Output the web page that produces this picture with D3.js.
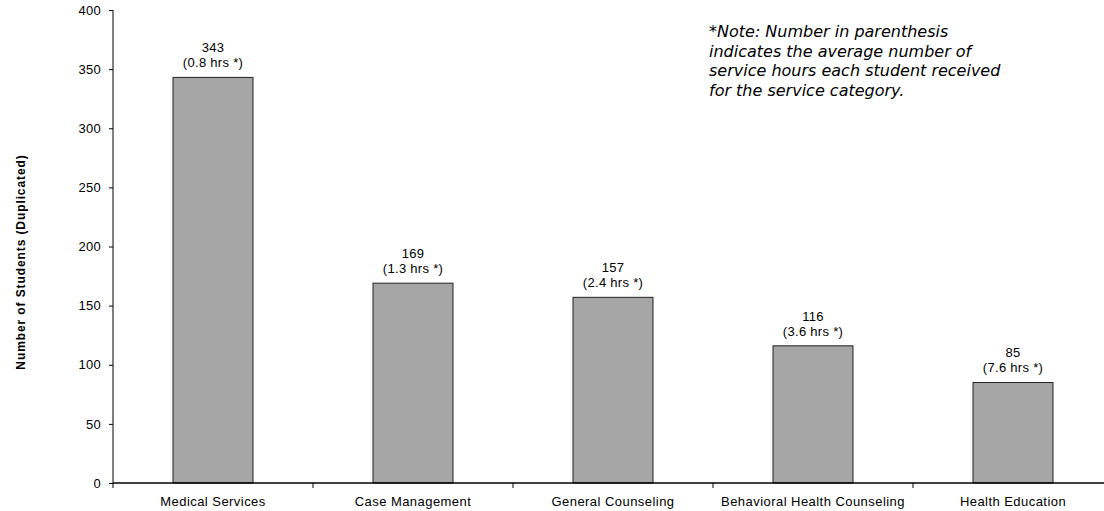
<!DOCTYPE html>
<html>
<head>
<meta charset="utf-8">
<script src="https://cdn.jsdelivr.net/npm/d3@7"></script>
<style>
  html, body { margin: 0; padding: 0; background: #fff; }
  svg { display: block; }
</style>
</head>
<body>
<svg id="chart" width="1104" height="511"></svg>
<script>
// Service categories and number of students served (duplicated count)
const categories = ["Medical Services", "Case Management", "General Counseling", "Behavioral Health Counseling", "Health Education"];
const students = [343, 169, 157, 116, 85];
const avgHours = [0.8, 1.3, 2.4, 3.6, 7.6];
const yTicks = [0, 50, 100, 150, 200, 250, 300, 350, 400];
const noteLines = [
  "*Note: Number in parenthesis",
  "indicates the average number of",
  "service hours each student received",
  "for the service category."
];

const SANS = "'Liberation Sans', Arial, sans-serif";
const svg = d3.select("#chart");
const plot = { left: 113, right: 1113, top: 10, bottom: 483 };

const x = d3.scaleBand().domain(categories).range([plot.left, plot.right]).paddingInner(0.6).paddingOuter(0.3);
const y = d3.scaleLinear().domain([0, 400]).range([plot.bottom, plot.top]);

// Bars
svg.append("g").selectAll("rect")
  .data(categories)
  .join("rect")
  .attr("x", d => x(d))
  .attr("y", (d, i) => y(students[i]))
  .attr("width", x.bandwidth())
  .attr("height", (d, i) => y(0) - y(students[i]))
  .attr("fill", "#a6a6a6")
  .attr("stroke", "#222")
  .attr("stroke-width", 1);

// Value labels: count and average hours
const labels = svg.append("g")
  .style("font-family", SANS).style("font-size", "13px").style("letter-spacing", "0.3px")
  .attr("text-anchor", "middle");
categories.forEach((c, i) => {
  const cx = x(c) + x.bandwidth() / 2;
  labels.append("text").attr("x", cx).attr("y", y(students[i]) - 25).text(students[i]);
  labels.append("text").attr("x", cx).attr("y", y(students[i]) - 10).text(`(${avgHours[i].toFixed(1)} hrs *)`);
});

// Y axis
const yAxis = svg.append("g")
  .attr("transform", `translate(${plot.left},0)`)
  .call(d3.axisLeft(y).tickValues(yTicks).tickSize(4).tickPadding(8));
yAxis.select(".domain").attr("stroke", "#000").attr("stroke-width", 1).attr("d", `M0,${plot.top}V${plot.bottom}`);
yAxis.selectAll(".tick line").attr("stroke", "#000");
yAxis.selectAll(".tick text")
  .style("font-family", SANS).style("font-size", "13px").style("letter-spacing", "0.3px")
  .attr("fill", "#000");

// X axis with ticks at category boundaries
const boundaries = d3.range(categories.length + 1).map(i => plot.left + i * x.step());
const xg = svg.append("g");
xg.append("line")
  .attr("x1", plot.left).attr("x2", plot.right)
  .attr("y1", plot.bottom).attr("y2", plot.bottom)
  .attr("stroke", "#000").attr("stroke-width", 1.6);
xg.selectAll("line.tick")
  .data(boundaries)
  .join("line")
  .attr("class", "tick")
  .attr("x1", d => d).attr("x2", d => d)
  .attr("y1", plot.bottom).attr("y2", plot.bottom + 5)
  .attr("stroke", "#000");
xg.selectAll("text")
  .data(categories)
  .join("text")
  .attr("x", d => x(d) + x.bandwidth() / 2)
  .attr("y", 506)
  .attr("text-anchor", "middle")
  .style("font-family", SANS).style("font-size", "13px").style("letter-spacing", "0.45px")
  .text(d => d);

// Y axis title
svg.append("text")
  .attr("transform", `translate(25,262) rotate(-90)`)
  .attr("text-anchor", "middle")
  .style("font-family", SANS).style("font-size", "12px").style("font-weight", "bold").style("letter-spacing", "0.9px")
  .text("Number of Students (Duplicated)");

// Note about the average hours
svg.append("g")
  .selectAll("text")
  .data(noteLines)
  .join("text")
  .attr("x", 709)
  .attr("y", (d, i) => 37 + i * 19.5)
  .style("font-family", "'DejaVu Sans', Verdana, sans-serif")
  .style("font-style", "italic")
  .style("font-size", "16px")
  .text(d => d);
</script>
</body>
</html>
